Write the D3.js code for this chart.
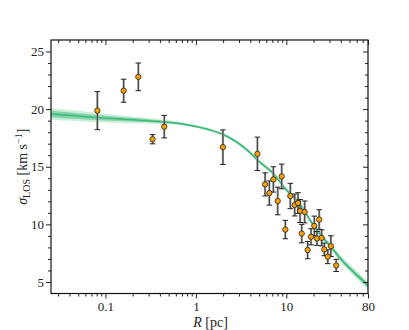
<!DOCTYPE html>
<html>
<head>
<meta charset="utf-8">
<script src="https://cdn.jsdelivr.net/npm/d3@7"></script>
<style>
  html, body { margin: 0; padding: 0; background: #fff; }
  #chart { width: 409px; height: 330px; }
  svg text { font-family: "Liberation Serif", "Times New Roman", serif !important; fill: #222; }
</style>
</head>
<body>
<div id="chart"></div>
<script>
// measured dispersion profile
var radius = [0.0814, 0.159, 0.231, 0.332, 0.447, 1.99, 4.79, 5.82, 6.49, 7.19,
  8.03, 8.89, 9.75, 11.07, 12.38, 13.46, 14.2, 14.8, 15.96, 17.2,
  18.75, 20.4, 21.8, 23.1, 24.6, 26.3, 28.7, 31.1, 35.6];
var sigma = [19.87, 21.6, 22.8, 17.39, 18.48, 16.7, 16.12, 13.47, 12.72, 13.9,
  12.03, 14.16, 9.55, 12.46, 11.68, 11.85, 11.16, 9.2, 11.08, 7.77,
  8.92, 9.87, 8.78, 10.42, 8.83, 7.83, 7.19, 8.11, 6.44];
var sigmaErr = [1.65, 1.0, 1.2, 0.4, 0.98, 1.5, 1.45, 1.0, 1.05, 1.1,
  1.2, 1.07, 0.8, 1.1, 0.95, 0.9, 1.0, 0.8, 0.95, 0.75,
  0.7, 0.85, 0.6, 0.85, 0.7, 0.55, 0.6, 0.9, 0.53];

// model curve + credible bands (half widths)
var modelR = [0.025, 0.05, 0.1, 0.2, 0.4, 0.7, 1, 1.5, 2, 3, 4, 5, 7, 10, 14, 20, 25, 30, 40, 55, 80];
var modelSigma = [19.58, 19.4, 19.22, 19.07, 18.92, 18.72, 18.5, 18.15, 17.8, 17.0, 16.2, 15.45,
  14.5, 13.0, 11.8, 9.9, 8.9, 8.2, 7.0, 5.9, 4.7];
var band68 = [0.28, 0.25, 0.2, 0.15, 0.1, 0.07, 0.06, 0.06, 0.07, 0.08, 0.09, 0.1,
  0.1, 0.1, 0.1, 0.1, 0.12, 0.13, 0.15, 0.17, 0.2];
var band95 = [0.5, 0.45, 0.38, 0.3, 0.2, 0.14, 0.12, 0.12, 0.14, 0.16, 0.18, 0.2,
  0.2, 0.2, 0.2, 0.22, 0.24, 0.26, 0.3, 0.34, 0.4];

// ticks
var xMajor = [0.1, 1, 10, 80];
var xMajorLabels = ["0.1", "1", "10", "80"];
var yMajor = [5, 10, 15, 20, 25];

var greenLine = "rgb(60,185,120)";
var orangeDot = "rgb(245,160,10)";
var serif = "'Liberation Serif', 'Times New Roman', serif";

var width = 409, height = 330;
var margin = { left: 51, right: 41, top: 40, bottom: 36.5 };
var chartWidth = width - margin.left - margin.right;
var chartHeight = height - margin.top - margin.bottom;

var svg = d3.select("#chart").append("svg")
  .attr("width", width)
  .attr("height", height);
var g = svg.append("g")
  .attr("transform", "translate(" + margin.left + "," + margin.top + ")");

var x = d3.scaleLog().domain([0.025, 80]).range([0, chartWidth]);
var y = d3.scaleLinear().domain([4, 26]).range([chartHeight, 0]);

// minor ticks
var xMinor = [];
[0.01, 0.1, 1, 10].forEach(function (dec) {
  for (var k = 2; k <= 9; k++) {
    var v = k * dec;
    if (v > 0.025 && v < 80) xMinor.push(v);
  }
});
var yMinor = d3.range(5, 26).filter(function (v) { return v % 5 !== 0; });

var model = modelR.map(function (r, i) {
  return { r: r, s: modelSigma[i], b1: band68[i], b2: band95[i] };
});

// bands
g.append("path")
  .datum(model)
  .attr("d", d3.area()
    .x(function (d) { return x(d.r); })
    .y0(function (d) { return y(d.s - d.b2); })
    .y1(function (d) { return y(d.s + d.b2); })
    .curve(d3.curveMonotoneX))
  .attr("fill", greenLine)
  .attr("fill-opacity", 0.25);

g.append("path")
  .datum(model)
  .attr("d", d3.area()
    .x(function (d) { return x(d.r); })
    .y0(function (d) { return y(d.s - d.b1); })
    .y1(function (d) { return y(d.s + d.b1); })
    .curve(d3.curveMonotoneX))
  .attr("fill", greenLine)
  .attr("fill-opacity", 0.5);

g.append("path")
  .datum(model)
  .attr("d", d3.line()
    .x(function (d) { return x(d.r); })
    .y(function (d) { return y(d.s); })
    .curve(d3.curveMonotoneX))
  .attr("fill", "none")
  .attr("stroke", greenLine)
  .attr("stroke-width", 1.5);

// data points
var pts = radius.map(function (r, i) {
  return { r: r, s: sigma[i], e: sigmaErr[i] };
});

var err = g.append("g").selectAll("g").data(pts).enter().append("g");
err.append("line")
  .attr("x1", function (d) { return x(d.r); })
  .attr("x2", function (d) { return x(d.r); })
  .attr("y1", function (d) { return y(d.s - d.e); })
  .attr("y2", function (d) { return y(d.s + d.e); })
  .attr("stroke", "#a0a0a0")
  .attr("stroke-width", 2.2);
err.append("line")
  .attr("x1", function (d) { return x(d.r); })
  .attr("x2", function (d) { return x(d.r); })
  .attr("y1", function (d) { return y(d.s - d.e); })
  .attr("y2", function (d) { return y(d.s + d.e); })
  .attr("stroke", "#333")
  .attr("stroke-width", 0.9);
[-1, 1].forEach(function (sgn) {
  err.append("line")
    .attr("x1", function (d) { return x(d.r) - 2.8; })
    .attr("x2", function (d) { return x(d.r) + 2.8; })
    .attr("y1", function (d) { return y(d.s + sgn * d.e); })
    .attr("y2", function (d) { return y(d.s + sgn * d.e); })
    .attr("stroke", "#222")
    .attr("stroke-width", 1);
});

g.append("g").selectAll("circle").data(pts).enter().append("circle")
  .attr("cx", function (d) { return x(d.r); })
  .attr("cy", function (d) { return y(d.s); })
  .attr("r", 2.7)
  .attr("fill", orangeDot)
  .attr("stroke", "#111")
  .attr("stroke-width", 0.7);

// axes
function styleAxis(sel) {
  sel.attr("font-family", serif);
  sel.select(".domain").remove();
  sel.selectAll("line").attr("stroke", "#222").attr("stroke-width", 1);
  sel.selectAll("text").style("font-size", "13px").style("font-family", serif).attr("fill", "#222");
}

g.append("g")
  .attr("transform", "translate(0," + chartHeight + ")")
  .call(d3.axisBottom(x).tickValues(xMajor).tickSize(5).tickPadding(3)
    .tickFormat(function (d, i) { return xMajorLabels[i]; }))
  .call(styleAxis);
g.append("g")
  .attr("transform", "translate(0," + chartHeight + ")")
  .call(d3.axisBottom(x).tickValues(xMinor).tickSize(3).tickFormat(""))
  .call(styleAxis);
g.append("g")
  .call(d3.axisTop(x).tickValues(xMajor).tickSize(-5).tickFormat(""))
  .call(styleAxis);
g.append("g")
  .call(d3.axisTop(x).tickValues(xMinor).tickSize(-3).tickFormat(""))
  .call(styleAxis);

g.append("g")
  .call(d3.axisLeft(y).tickValues(yMajor).tickSize(5).tickPadding(2))
  .call(styleAxis);
g.append("g")
  .call(d3.axisLeft(y).tickValues(yMinor).tickSize(3).tickFormat(""))
  .call(styleAxis);
g.append("g")
  .attr("transform", "translate(" + chartWidth + ",0)")
  .call(d3.axisRight(y).tickValues(yMajor).tickSize(-5).tickFormat(""))
  .call(styleAxis);
g.append("g")
  .attr("transform", "translate(" + chartWidth + ",0)")
  .call(d3.axisRight(y).tickValues(yMinor).tickSize(-3).tickFormat(""))
  .call(styleAxis);

g.append("rect")
  .attr("width", chartWidth)
  .attr("height", chartHeight)
  .attr("fill", "none")
  .attr("stroke", "#111")
  .attr("stroke-width", 1.2);

// labels
var xl = svg.append("text")
  .attr("x", margin.left + chartWidth / 2 + 1)
  .attr("y", 327)
  .attr("text-anchor", "middle")
  .style("font-family", serif)
  .style("font-size", "14px");
xl.append("tspan").style("font-style", "italic").text("R");
xl.append("tspan").text(" [pc]");

var yl = svg.append("text")
  .attr("transform", "translate(27," + (margin.top + chartHeight / 2) + ") rotate(-90)")
  .attr("text-anchor", "middle")
  .style("font-family", serif)
  .style("font-size", "14px");
yl.append("tspan").style("font-style", "italic").text("σ");
yl.append("tspan").attr("dy", 3).style("font-size", "10px").text("LOS");
yl.append("tspan").attr("dy", -3).text(" [km s");
yl.append("tspan").attr("dy", -5).style("font-size", "10px").text("−1");
yl.append("tspan").attr("dy", 5).text("]");
</script>
</body>
</html>
